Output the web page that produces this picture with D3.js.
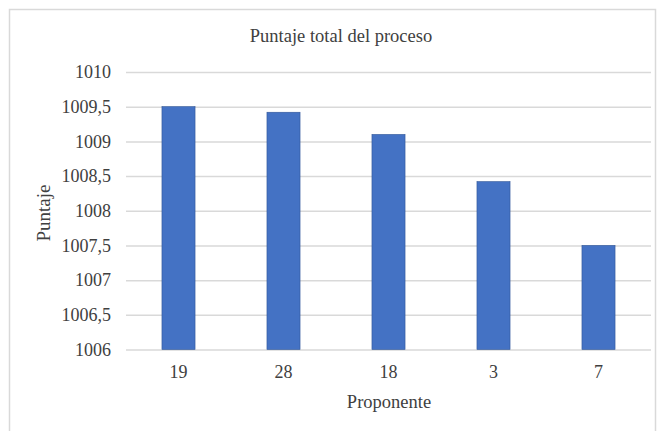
<!DOCTYPE html>
<html>
<head>
<meta charset="utf-8">
<script src="https://cdn.jsdelivr.net/npm/d3@7"></script>
<style>
  html, body { margin: 0; padding: 0; background: #fff; }
  svg text { font-family: "Liberation Serif", "Times New Roman", serif !important; }
</style>
</head>
<body>
<div id="chart"></div>
<script>
// Data
const proponentes = ["19", "28", "18", "3", "7"];
const puntajes = [1009.5, 1009.42, 1009.1, 1008.42, 1007.5];
const yTicks = [1006, 1006.5, 1007, 1007.5, 1008, 1008.5, 1009, 1009.5, 1010];

const width = 658;
const height = 431;
const marginTop = 72;
const marginRight = 7;
const marginBottom = 81.5;
const marginLeft = 126;
const serif = "Liberation Serif, Times New Roman, serif";
const textColor = "#404040";

const svg = d3
  .create("svg")
  .attr("width", width)
  .attr("height", height)
  .attr("font-family", serif)
  .style("display", "block");

// chart area border
svg
  .append("rect")
  .attr("x", 9.5)
  .attr("y", 9.5)
  .attr("width", 646)
  .attr("height", 430)
  .attr("fill", "#fff")
  .attr("stroke", "#d9d9d9")
  .attr("stroke-width", 1.5);

const x = d3
  .scaleBand()
  .domain(proponentes)
  .range([marginLeft, width - marginRight])
  .paddingInner(0.685)
  .paddingOuter(0.3425);

const y = d3
  .scaleLinear()
  .domain([1006, 1010])
  .range([height - marginBottom, marginTop]);

const fmt = (d) => String(d).replace(".", ",");

// gridlines + y labels
svg
  .append("g")
  .attr("transform", `translate(${marginLeft},0)`)
  .call(
    d3
      .axisLeft(y)
      .tickValues(yTicks)
      .tickSize(-(width - marginLeft - marginRight))
      .tickPadding(15)
      .tickFormat(fmt)
  )
  .attr("font-family", serif)
  .attr("font-size", 18)
  .call((g) => g.select(".domain").remove())
  .call((g) =>
    g.selectAll(".tick line").attr("stroke", "#d9d9d9").attr("stroke-width", 1.5)
  )
  .call((g) => g.selectAll(".tick text").attr("fill", textColor));

// bars
svg
  .append("g")
  .selectAll("rect")
  .data(puntajes)
  .join("rect")
  .attr("x", (d, i) => x(proponentes[i]))
  .attr("y", (d) => y(d))
  .attr("width", x.bandwidth())
  .attr("height", (d) => y(1006) - y(d))
  .attr("fill", "#4472c4")
  .attr("stroke", "#2f5597")
  .attr("stroke-width", 0.6);

// x labels
svg
  .append("g")
  .attr("transform", `translate(0,${height - marginBottom})`)
  .call(d3.axisBottom(x).tickSize(0).tickPadding(16))
  .attr("font-family", serif)
  .attr("font-size", 18)
  .call((g) => g.select(".domain").remove())
  .call((g) => g.selectAll(".tick text").attr("fill", textColor));

// titles
svg
  .append("text")
  .attr("x", 341)
  .attr("y", 42)
  .attr("text-anchor", "middle")
  .attr("font-size", 18.5)
  .attr("fill", textColor)
  .text("Puntaje total del proceso");

svg
  .append("text")
  .attr("x", 389)
  .attr("y", 408)
  .attr("text-anchor", "middle")
  .attr("font-size", 18.5)
  .attr("fill", textColor)
  .text("Proponente");

svg
  .append("text")
  .attr("transform", "translate(50,213) rotate(-90)")
  .attr("text-anchor", "middle")
  .attr("font-size", 19)
  .attr("fill", textColor)
  .text("Puntaje");

document.getElementById("chart").appendChild(svg.node());
</script>
</body>
</html>
